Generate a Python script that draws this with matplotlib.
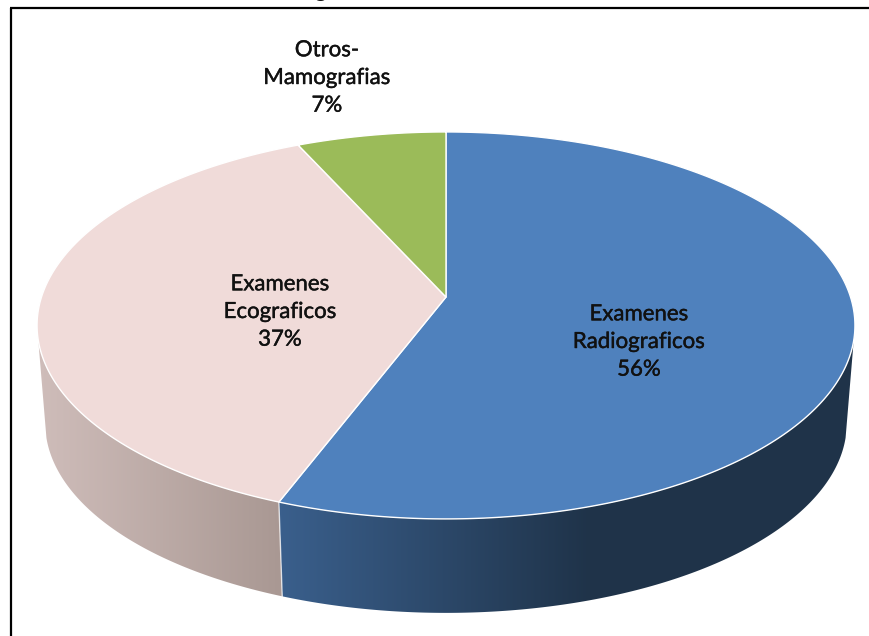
import numpy as np
import matplotlib
matplotlib.use("Agg")
from matplotlib import pyplot as plt
from matplotlib import patheffects
from matplotlib.colors import to_rgb
from matplotlib.patches import Polygon

labels = ["Examenes\nRadiograficos", "Examenes\nEcograficos", "Otros-\nMamografias"]
values = [55.8, 37.4, 6.8]
top_colors = ["#4f81bd", "#f0dbd9", "#9bbb59"]
side_left = ["#3a5f8c", "#cfbdba", "#7d9647"]
side_right = ["#1f3349", "#a99893", "#7d9647"]
label_pos = [(639, 342), (280, 312), (327, 78)]

# perspective of the disc, in pixels around the apex
APEX = (446, 297)
TILT = 0.147
RX, RY = 404.5, 189.3
BOTTOM_SCALE = 0.98
BOTTOM_DROP = 98.4
# x range over which each wall goes from its left to its right colour
FADE = [(281, 590), (37, 281), (37, 281)]
# part of the rim where the wall can be seen
WALL_FROM, WALL_TO = 0.285, 0.715


def project(frac):
    a = 2 * np.pi * np.asarray(frac)
    x, y = np.sin(a), np.cos(a)
    w = 1 + TILT * y
    return APEX[0] + RX * x / w, APEX[1] - RY * y / w


fig = plt.figure(figsize=(8.69, 6.36), dpi=100)
ax = fig.add_axes([0, 0, 1, 1])
ax.axis("off")

# frame of the cropped screenshot, only top and left are in the picture
ax.plot([11, 11], [8, 636], color="black", lw=1.6, solid_capstyle="butt", zorder=1)
ax.plot([10, 869], [8, 8], color="black", lw=1.6, solid_capstyle="butt", zorder=1)

# the descender of the cut off title
ax.text(320, -3, "g", ha="center", va="baseline", fontsize=16, family="Lato", color="#111111")

fractions = np.cumsum([0] + values) / sum(values)

# side wall, lower rim is a smaller copy of the top rim
for i in range(len(values)):
    t = np.linspace(fractions[i], fractions[i + 1], 300)
    t = t[(t > WALL_FROM) & (t < WALL_TO)]
    if len(t) < 2:
        continue
    px, py = project(t)
    qx = APEX[0] + BOTTOM_SCALE * (px - APEX[0])
    qy = APEX[1] + BOTTOM_SCALE * (py - APEX[1]) + BOTTOM_DROP
    wall = Polygon(np.c_[np.r_[px, qx[::-1]], np.r_[py, qy[::-1]]], closed=True,
                   transform=ax.transData, fc="none", ec="none")
    ax.add_patch(wall)
    xs = np.arange(0, 869)
    s = np.clip((xs - FADE[i][0]) / (FADE[i][1] - FADE[i][0]), 0, 1)[None, :, None]
    c_left = np.array(to_rgb(side_left[i]))
    c_right = np.array(to_rgb(side_right[i]))
    im = ax.imshow(c_left + (c_right - c_left) * s, extent=(0, 869, 636, 0),
                   aspect="auto", zorder=2)
    im.set_clip_path(wall)

ax.set_xlim(0, 869)
ax.set_ylim(636, 0)

# pale seam between the two walls
bx, by = project(fractions[1])
ax.plot([bx, APEX[0] + BOTTOM_SCALE * (bx - APEX[0])],
        [by, APEX[1] + BOTTOM_SCALE * (by - APEX[1]) + BOTTOM_DROP],
        color="white", lw=1, alpha=0.7, zorder=3)

# top of the pie
for i in range(len(values)):
    t = np.linspace(fractions[i], fractions[i + 1], 300)
    px, py = project(t)
    ax.fill(np.r_[APEX[0], px], np.r_[APEX[1], py], fc=top_colors[i],
            ec="white", lw=1.0, joinstyle="round", zorder=4)

for lab, val, (lx, ly) in zip(labels, values, label_pos):
    txt = ax.text(lx, ly, f"{lab}\n{val:.0f}%", ha="center", va="center", fontsize=16,
                  family="Lato", color="#111111", linespacing=1.48, zorder=5)
    txt.set_path_effects([patheffects.withStroke(linewidth=0.3, foreground="#111111")])

plt.savefig("out.png", dpi=100)
